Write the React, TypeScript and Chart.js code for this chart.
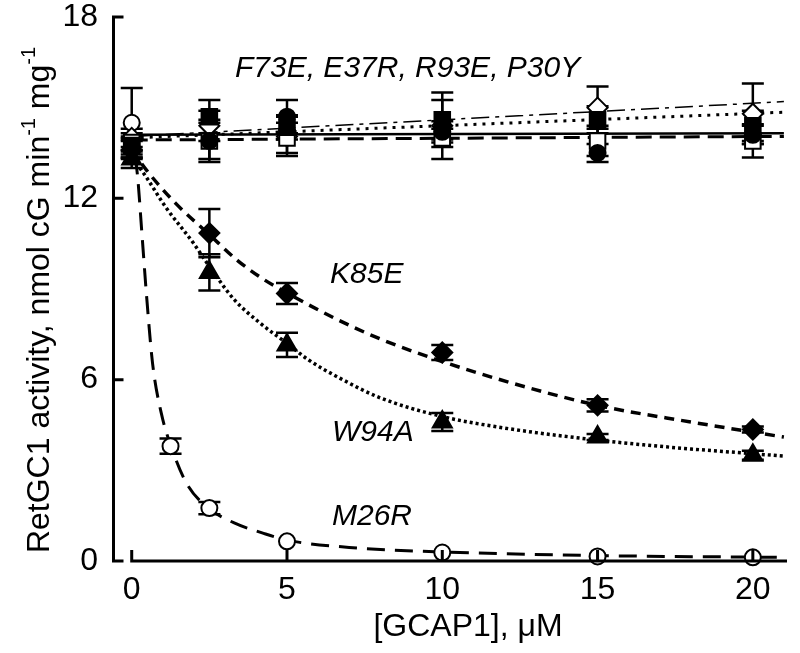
import React, { useEffect, useRef } from "react";
import { Chart, registerables } from "chart.js";

Chart.register(...registerables);

const FONT = '"Liberation Sans", Arial, Helvetica, sans-serif';

// ---------- data ----------
const concX = [0, 2.5, 5, 10, 15, 20];
const xTicks = [0, 5, 10, 15, 20];
const yTicks = [0, 6, 12, 18];

// F73E, E37R, R93E, P30Y group
const filledCircleY = [13.65, 13.9, 14.7, 14.2, 13.5, 14.1];
const filledCircleErr = [0.3, 0.6, 0.55, 0.35, 0.3, 0.3];
const filledSquareY = [13.75, 14.7, 14.35, 14.6, 14.6, 14.4];
const filledSquareErr = [0.3, 0.55, 0.4, 0.65, 0.45, 0.5];
const openSquareY = [13.85, 13.9, 14.0, 14.0, 13.9, 13.9];
const openSquareErr = [0.3, 0.7, 0.5, 0.3, 0.5, 0.55];
const openDiamondY = [14.0, 14.4, 14.05, 14.4, 15.0, 14.8];
const openDiamondErr = [0.3, 0.5, 0.65, 1.1, 0.7, 1.0];

// K85E (filled diamond) and W94A (filled triangle)
const k85eY = [13.6, 10.85, 8.85, 6.9, 5.15, 4.35];
const k85eErr = [0.3, 0.8, 0.35, 0.25, 0.2, 0.1];
const w94aY = [13.3, 9.55, 7.15, 4.6, 4.1, 3.5];
const w94aErr = [0.3, 0.6, 0.4, 0.3, 0.1, 0.15];

// M26R (open circle)
const m26rX = [0, 1.25, 2.5, 5, 10, 15, 20];
const m26rY = [14.5, 3.8, 1.75, 0.65, 0.28, 0.15, 0.12];
const m26rErr = [1.15, 0.25, 0.2, 0, 0, 0, 0];

// fitted curves, sampled from the figure
const k85eFitX = [0, 0.5, 1.4, 2.5, 3.4, 4.2, 5, 6.5, 8, 10, 12.2, 15, 18, 21];
const k85eFitY = [13.6, 12.9, 11.85, 10.8, 9.95, 9.35, 8.87, 8.05, 7.35, 6.6, 5.9, 5.15, 4.6, 4.1];
const w94aFitX = [0, 0.3, 1.1, 2, 2.5, 3.3, 4.1, 5, 5.7, 6.7, 8, 10, 12, 15, 17.5, 20, 21];
const w94aFitY = [13.3, 12.95, 11.7, 10.5, 9.75, 8.65, 7.9, 7.2, 6.65, 6.05, 5.4, 4.78, 4.4, 4.0, 3.75, 3.55, 3.47];
const m26rFitX = [0, 0.2, 0.32, 0.48, 0.67, 0.95, 1.3, 1.75, 2.4, 3.3, 4.2, 5, 7, 10, 15, 21];
const m26rFitY = [14.3, 12.6, 10.95, 8.75, 6.55, 4.9, 3.7, 2.6, 1.8, 1.26, 0.93, 0.69, 0.45, 0.3, 0.18, 0.12];
const flatFitX = [0, 21];
const solidFitY = [14.1, 14.15];
const dashedFitY = [13.93, 14.05];
const dottedFitY = [14.0, 14.85];
const dashDotFitY = [14.05, 15.2];

const groupLabel = "F73E, E37R, R93E, P30Y";
const k85eLabel = "K85E";
const w94aLabel = "W94A";
const m26rLabel = "M26R";
const xTitle = "[GCAP1], \u03BCM";

// ---------- helpers ----------
const pts = (xs: number[], ys: number[]) => xs.map((x, i) => ({ x, y: ys[i] }));

const errorSeries = [
  { x: concX, y: filledCircleY, e: filledCircleErr },
  { x: concX, y: filledSquareY, e: filledSquareErr },
  { x: concX, y: openSquareY, e: openSquareErr },
  { x: concX, y: openDiamondY, e: openDiamondErr },
  { x: concX, y: k85eY, e: k85eErr },
  { x: concX, y: w94aY, e: w94aErr },
  { x: m26rX, y: m26rY, e: m26rErr },
];

const errorBarPlugin = {
  id: "errorBars",
  beforeDatasetsDraw(chart: any) {
    const { ctx, scales } = chart;
    const xs = scales.x;
    const ys = scales.y;
    ctx.save();
    ctx.strokeStyle = "#000";
    ctx.lineWidth = 2.5;
    const cap = 11;
    errorSeries.forEach((s) => {
      s.x.forEach((xv, i) => {
        const e = s.e[i];
        if (!e) return;
        const px = xs.getPixelForValue(xv);
        const top = ys.getPixelForValue(s.y[i] + e);
        const bot = ys.getPixelForValue(s.y[i] - e);
        ctx.beginPath();
        ctx.moveTo(px, top);
        ctx.lineTo(px, bot);
        ctx.moveTo(px - cap, top);
        ctx.lineTo(px + cap, top);
        ctx.moveTo(px - cap, bot);
        ctx.lineTo(px + cap, bot);
        ctx.stroke();
      });
    });
    ctx.restore();
  },
};

const axesPlugin = {
  id: "customAxes",
  afterDraw(chart: any) {
    const { ctx, scales, chartArea } = chart;
    const xs = scales.x;
    const ys = scales.y;
    ctx.save();
    ctx.strokeStyle = "#000";
    ctx.lineWidth = 3;
    ctx.lineCap = "butt";
    const ax = chartArea.left + 1.5;
    const y0 = ys.getPixelForValue(0);
    // y axis
    ctx.beginPath();
    ctx.moveTo(ax, ys.getPixelForValue(18) - 1.5);
    ctx.lineTo(ax, y0 + 1.5);
    yTicks.forEach((v) => {
      const py = ys.getPixelForValue(v);
      ctx.moveTo(ax, py);
      ctx.lineTo(ax + 10, py);
    });
    ctx.stroke();
    // x axis
    ctx.beginPath();
    const x0 = xs.getPixelForValue(0);
    ctx.moveTo(x0 - 1.5, y0);
    ctx.lineTo(chartArea.right, y0);
    xTicks.forEach((v) => {
      const px = xs.getPixelForValue(v);
      ctx.moveTo(px, y0);
      ctx.lineTo(px, y0 - 11);
    });
    ctx.stroke();
    ctx.restore();
  },
};

const textPlugin = {
  id: "texts",
  afterDraw(chart: any) {
    const ctx = chart.ctx;
    ctx.save();
    ctx.fillStyle = "#000";
    ctx.textBaseline = "alphabetic";
    // x title
    ctx.font = `32px ${FONT}`;
    ctx.textAlign = "center";
    ctx.fillText(xTitle, 468, 636);
    // annotations
    ctx.textAlign = "left";
    ctx.font = `italic 30px ${FONT}`;
    ctx.fillText(groupLabel, 235, 77);
    ctx.fillText(k85eLabel, 330, 283);
    ctx.fillText(w94aLabel, 332, 441);
    ctx.fillText(m26rLabel, 332, 525);
    // y title with superscripts
    const segs = [
      { t: "RetGC1 activity, nmol cG min", sup: false },
      { t: "-1", sup: true },
      { t: " mg", sup: false },
      { t: "-1", sup: true },
    ];
    const normalFont = `32px ${FONT}`;
    const supFont = `20px ${FONT}`;
    let total = 0;
    const widths = segs.map((s) => {
      ctx.font = s.sup ? supFont : normalFont;
      const w = ctx.measureText(s.t).width;
      total += w;
      return w;
    });
    ctx.translate(49, 300);
    ctx.rotate(-Math.PI / 2);
    let cx = -total / 2;
    segs.forEach((s, i) => {
      ctx.font = s.sup ? supFont : normalFont;
      ctx.fillText(s.t, cx, s.sup ? -14 : 0);
      cx += widths[i];
    });
    ctx.restore();
  },
};

export default function App() {
  const ref = useRef<HTMLCanvasElement | null>(null);

  useEffect(() => {
    document.body.style.margin = "0";
    const canvas = ref.current;
    if (!canvas) return;

    const marker = (data: any, style: string, radius: number, filled: boolean) => ({
      data,
      showLine: false,
      pointStyle: style,
      pointRadius: radius,
      pointHoverRadius: radius,
      pointBackgroundColor: filled ? "#000" : "#fff",
      pointBorderColor: "#000",
      pointBorderWidth: 2,
      order: 0,
      clip: false,
    });
    const curve = (data: any, dash: number[], width: number) => ({
      data,
      showLine: true,
      pointRadius: 0,
      pointHoverRadius: 0,
      borderColor: "#000",
      borderWidth: width,
      borderDash: dash,
      cubicInterpolationMode: "monotone",
      fill: false,
      order: 1,
      clip: false,
    });

    const chart = new Chart(canvas, {
      type: "scatter",
      data: {
        datasets: [
          marker(pts(concX, filledCircleY), "circle", 8, true),
          marker(pts(concX, filledSquareY), "rect", 11, true),
          marker(pts(concX, openSquareY), "rect", 11, false),
          marker(pts(concX, openDiamondY), "rectRot", 10, false),
          marker(pts(concX, k85eY), "rectRot", 10, true),
          marker(pts(concX, w94aY), "triangle", 11, true),
          marker(pts(m26rX, m26rY), "circle", 8, false),
          curve(pts(flatFitX, solidFitY), [], 2.5),
          curve(pts(flatFitX, dashedFitY), [16, 8], 3),
          curve(pts(flatFitX, dottedFitY), [3, 6], 3),
          curve(pts(flatFitX, dashDotFitY), [18, 6, 4, 6], 1.5),
          curve(pts(k85eFitX, k85eFitY), [10, 7], 3.5),
          curve(pts(w94aFitX, w94aFitY), [3, 3], 3.5),
          curve(pts(m26rFitX, m26rFitY), [18, 10], 3),
        ] as any,
      },
      options: {
        animation: false,
        responsive: false,
        devicePixelRatio: 1,
        layout: { padding: { top: 17, right: 3, left: 0, bottom: 0 } },
        plugins: {
          legend: { display: false },
          tooltip: { enabled: false },
        },
        scales: {
          x: {
            type: "linear",
            min: -0.635,
            max: 21.1,
            grid: { display: false, drawTicks: false },
            border: { display: false },
            afterBuildTicks: (s: any) => {
              s.ticks = xTicks.map((v) => ({ value: v }));
            },
            afterFit: (s: any) => {
              s.height = 92;
              s.paddingLeft = 0;
              s.paddingRight = 0;
            },
            ticks: {
              color: "#000",
              font: { family: FONT, size: 32 },
              padding: 10,
              maxRotation: 0,
              autoSkip: false,
              callback: (v: any) => String(v),
            },
          },
          y: {
            type: "linear",
            min: 0,
            max: 18,
            grid: { display: false, drawTicks: false },
            border: { display: false },
            afterBuildTicks: (s: any) => {
              s.ticks = yTicks.map((v) => ({ value: v }));
            },
            afterFit: (s: any) => {
              s.width = 112;
              s.paddingTop = 0;
              s.paddingBottom = 0;
            },
            ticks: {
              color: "#000",
              font: { family: FONT, size: 32 },
              padding: 14,
              autoSkip: false,
              callback: (v: any) => String(v),
            },
          },
        },
      } as any,
      plugins: [errorBarPlugin, axesPlugin, textPlugin],
    });
    return () => chart.destroy();
  }, []);

  return (
    <div style={{ width: 800, height: 653, background: "#fff" }}>
      <canvas ref={ref} width={800} height={653} style={{ display: "block" }} />
    </div>
  );
}
